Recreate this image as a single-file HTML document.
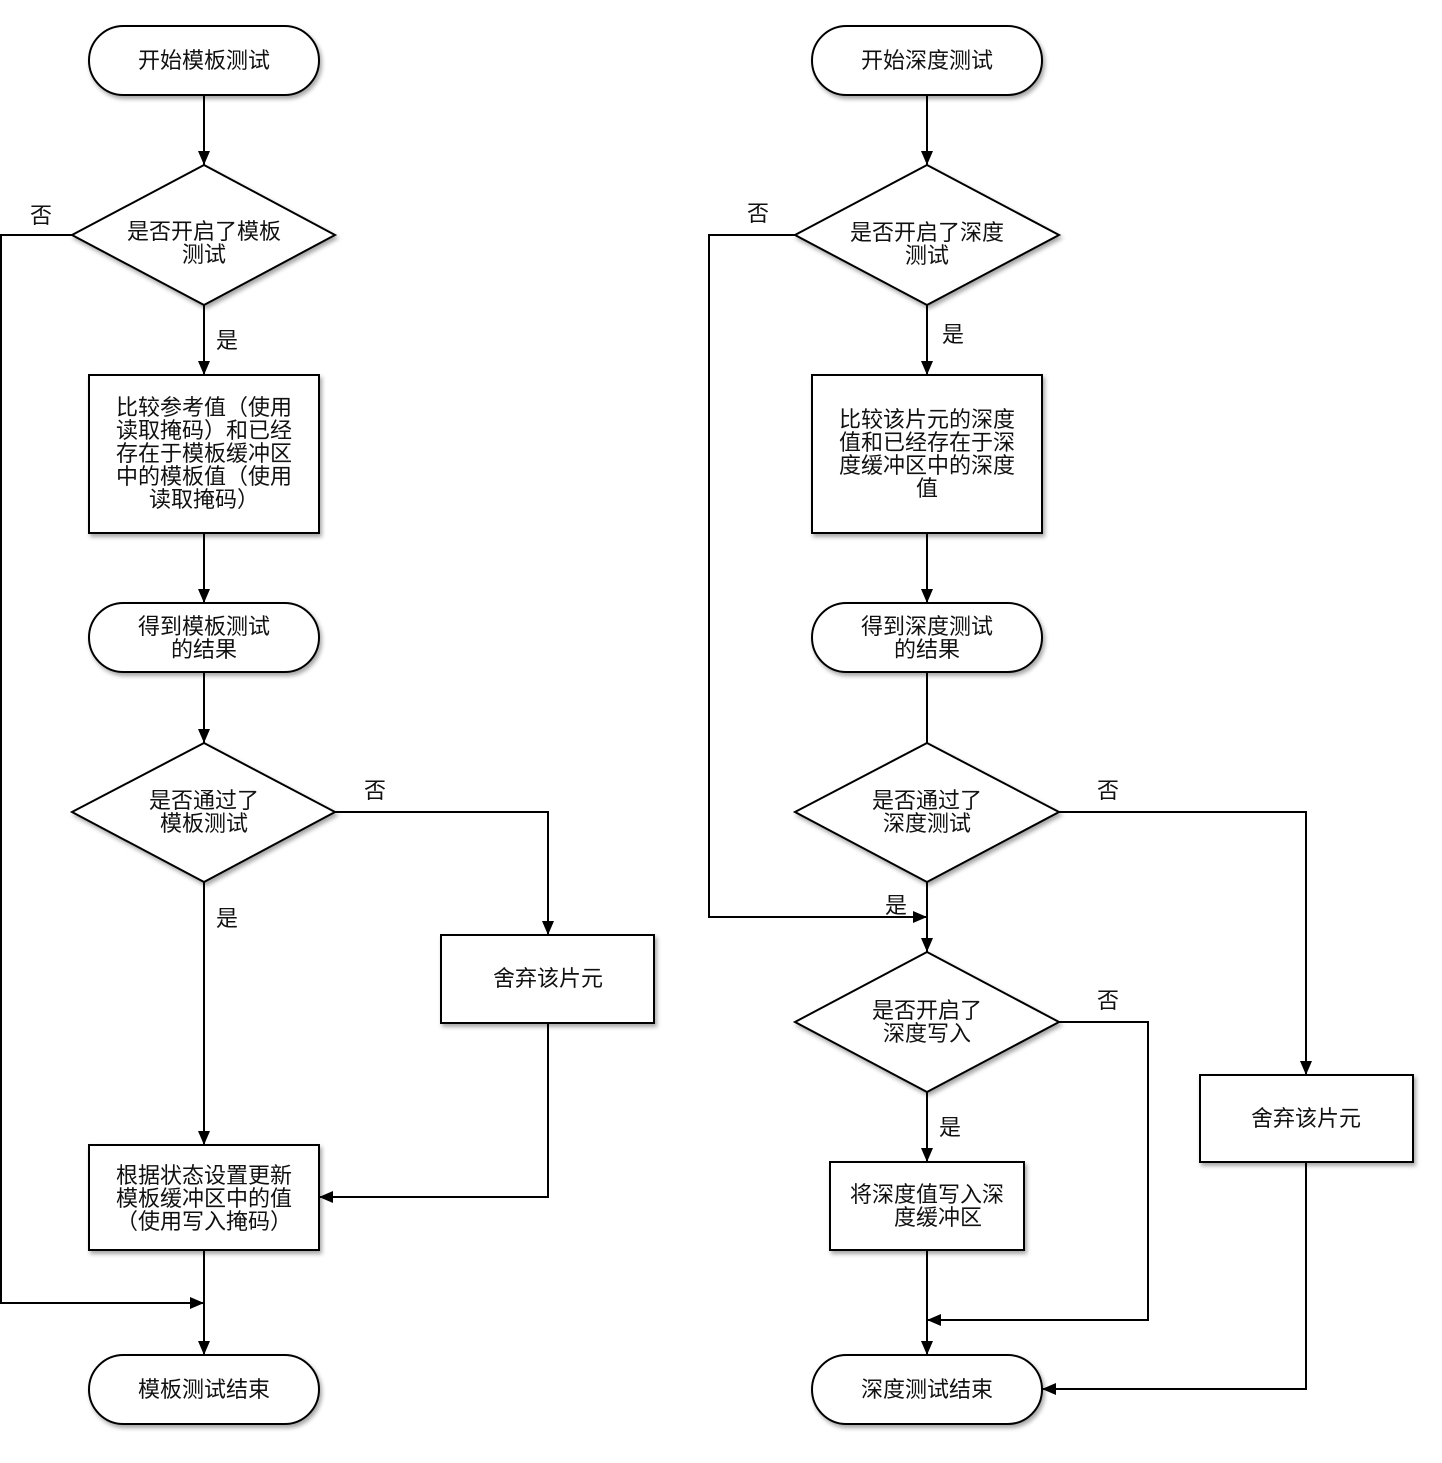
<!DOCTYPE html>
<html><head><meta charset="utf-8"><style>
html,body{margin:0;padding:0;background:#fff}
text{font-family:"Liberation Sans","Noto Sans CJK SC",sans-serif;font-size:22px;fill:#111;text-anchor:middle}
</style></head><body>
<svg width="1442" height="1458" viewBox="0 0 1442 1458" xmlns="http://www.w3.org/2000/svg">
<defs>
<filter id="sh" x="-10%" y="-10%" width="130%" height="130%"><feDropShadow dx="2" dy="3" stdDeviation="2" flood-color="#000" flood-opacity="0.35"/></filter>
<marker id="ar" markerWidth="14" markerHeight="12" refX="14" refY="6" orient="auto" markerUnits="userSpaceOnUse"><path d="M0,0 L14,6 L0,12 z" fill="#000"/></marker>
</defs>
<g fill="#fff" stroke="#000" stroke-width="2" filter="url(#sh)">
<rect x="89" y="26" width="230" height="69" rx="34.5"/>
<rect x="812" y="26" width="230" height="69" rx="34.5"/>
<polygon points="204,165 335,235 204,305 72,235"/>
<polygon points="927,165 1059,235 927,305 795,235"/>
<rect x="89" y="375" width="230" height="158"/>
<rect x="812" y="375" width="230" height="158"/>
<rect x="89" y="603" width="230" height="69" rx="34.5"/>
<rect x="812" y="603" width="230" height="69" rx="34.5"/>
<polygon points="204,743 335,812 204,882 72,812"/>
<polygon points="927,743 1059,812 927,882 795,812"/>
<rect x="441" y="935" width="213" height="88"/>
<rect x="89" y="1145" width="230" height="105"/>
<rect x="89" y="1355" width="230" height="69" rx="34.5"/>
<polygon points="927,952 1059,1022 927,1092 795,1022"/>
<rect x="1200" y="1075" width="213" height="87"/>
<rect x="830" y="1162" width="194" height="88"/>
<rect x="812" y="1355" width="230" height="69" rx="34.5"/>
</g>
<g fill="none" stroke="#000" stroke-width="2">
<line x1="204" y1="95" x2="204" y2="165" marker-end="url(#ar)"/>
<line x1="204" y1="305" x2="204" y2="375" marker-end="url(#ar)"/>
<line x1="204" y1="533" x2="204" y2="603" marker-end="url(#ar)"/>
<line x1="204" y1="672" x2="204" y2="743" marker-end="url(#ar)"/>
<line x1="204" y1="882" x2="204" y2="1145" marker-end="url(#ar)"/>
<line x1="204" y1="1250" x2="204" y2="1355" marker-end="url(#ar)"/>
<polyline points="72,235 1,235 1,1303 204,1303" marker-end="url(#ar)"/>
<polyline points="335,812 548,812 548,935" marker-end="url(#ar)"/>
<polyline points="548,1023 548,1197 319,1197" marker-end="url(#ar)"/>
<line x1="927" y1="95" x2="927" y2="165" marker-end="url(#ar)"/>
<line x1="927" y1="305" x2="927" y2="375" marker-end="url(#ar)"/>
<line x1="927" y1="533" x2="927" y2="603" marker-end="url(#ar)"/>
<line x1="927" y1="672" x2="927" y2="743"/>
<line x1="927" y1="882" x2="927" y2="952" marker-end="url(#ar)"/>
<polyline points="795,235 709,235 709,917 927,917" marker-end="url(#ar)"/>
<polyline points="1059,812 1306,812 1306,1075" marker-end="url(#ar)"/>
<polyline points="1306,1162 1306,1389 1042,1389" marker-end="url(#ar)"/>
<line x1="927" y1="1092" x2="927" y2="1162" marker-end="url(#ar)"/>
<line x1="927" y1="1250" x2="927" y2="1355" marker-end="url(#ar)"/>
<polyline points="1059,1022 1148,1022 1148,1320 927,1320" marker-end="url(#ar)"/>
</g>
<g>
<text x="204" y="68">开始模板测试</text>
<text x="927" y="68">开始深度测试</text>
<text x="204" y="239">是否开启了模板</text><text x="204" y="262">测试</text>
<text x="927" y="240">是否开启了深度</text><text x="927" y="263">测试</text>
<text x="204" y="415">比较参考值（使用</text>
<text x="204" y="438">读取掩码）和已经</text>
<text x="204" y="461">存在于模板缓冲区</text>
<text x="204" y="484">中的模板值（使用</text>
<text x="204" y="507">读取掩码）</text>
<text x="927" y="427">比较该片元的深度</text>
<text x="927" y="450">值和已经存在于深</text>
<text x="927" y="473">度缓冲区中的深度</text>
<text x="927" y="496">值</text>
<text x="204" y="634">得到模板测试</text><text x="204" y="657">的结果</text>
<text x="927" y="634">得到深度测试</text><text x="927" y="657">的结果</text>
<text x="204" y="808">是否通过了</text><text x="204" y="831">模板测试</text>
<text x="927" y="808">是否通过了</text><text x="927" y="831">深度测试</text>
<text x="548" y="986">舍弃该片元</text>
<text x="1306" y="1126">舍弃该片元</text>
<text x="204" y="1183">根据状态设置更新</text>
<text x="204" y="1206">模板缓冲区中的值</text>
<text x="204" y="1229">（使用写入掩码）</text>
<text x="927" y="1018">是否开启了</text><text x="927" y="1041">深度写入</text>
<text x="927" y="1202">将深度值写入深</text><text x="938" y="1225">度缓冲区</text>
<text x="204" y="1397">模板测试结束</text>
<text x="927" y="1397">深度测试结束</text>
<text x="41" y="223">否</text>
<text x="227" y="348">是</text>
<text x="375" y="798">否</text>
<text x="227" y="926">是</text>
<text x="758" y="221">否</text>
<text x="953" y="342">是</text>
<text x="1108" y="798">否</text>
<text x="896" y="913">是</text>
<text x="1108" y="1008">否</text>
<text x="950" y="1135">是</text>
</g>
</svg>
</body></html>
